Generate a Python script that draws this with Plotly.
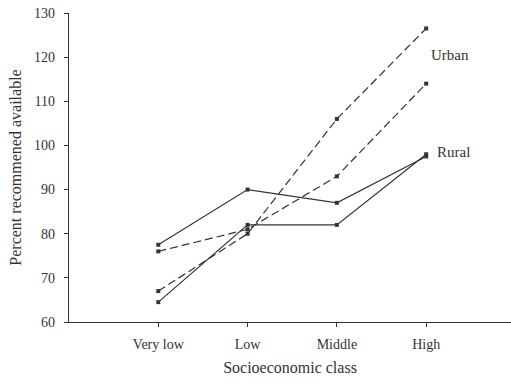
import plotly.graph_objects as go

classes = ["Very low", "Low", "Middle", "High"]
x_pos = [1, 2, 3, 4]
rural_a = [77.5, 90, 87, 97.5]
rural_b = [64.5, 82, 82, 98]
urban_a = [67, 80, 106, 126.5]
urban_b = [76, 81, 93, 114]
y_ticks = [60, 70, 80, 90, 100, 110, 120, 130]

FONT = "Liberation Serif"
INK = "#333333"

fig = go.Figure()

def add(vals, dash):
    fig.add_trace(go.Scatter(
        x=x_pos, y=vals, mode="lines+markers",
        line=dict(color=INK, width=1.2, dash=dash),
        marker=dict(symbol="square", size=4, color=INK),
        showlegend=False,
    ))

add(rural_a, "solid")
add(rural_b, "solid")
add(urban_a, "8px,4px")
add(urban_b, "8px,4px")

fig.add_annotation(x=4.03, y=120.5, text="Urban", showarrow=False, xanchor="left",
                   font=dict(family=FONT, size=15, color=INK))
fig.add_annotation(x=4.1, y=98.5, text="Rural", showarrow=False, xanchor="left",
                   font=dict(family=FONT, size=15, color=INK))

fig.update_layout(
    width=511, height=383,
    margin=dict(l=69, r=0, t=13, b=61),
    plot_bgcolor="white", paper_bgcolor="white",
    font=dict(family=FONT, color=INK),
    xaxis=dict(
        range=[0, 4.95], tickmode="array", tickvals=x_pos, ticktext=classes,
        showline=True, linecolor=INK, linewidth=1.2, ticks="outside", ticklen=4,
        tickcolor=INK, showgrid=False, zeroline=False, ticklabelstandoff=5,
        tickfont=dict(family=FONT, size=14, color=INK),
        title=dict(text="Socioeconomic class", font=dict(family=FONT, size=16, color=INK), standoff=10),
    ),
    yaxis=dict(
        range=[60, 130], tickmode="array", tickvals=y_ticks,
        showline=True, linecolor=INK, linewidth=1.2, ticks="outside", ticklen=4,
        tickcolor=INK, showgrid=False, zeroline=False, ticklabelstandoff=6,
        tickfont=dict(family=FONT, size=14, color=INK),
        title=dict(text="Percent recommened available", font=dict(family=FONT, size=16, color=INK), standoff=8),
    ),
)

fig.write_html("out.html")
